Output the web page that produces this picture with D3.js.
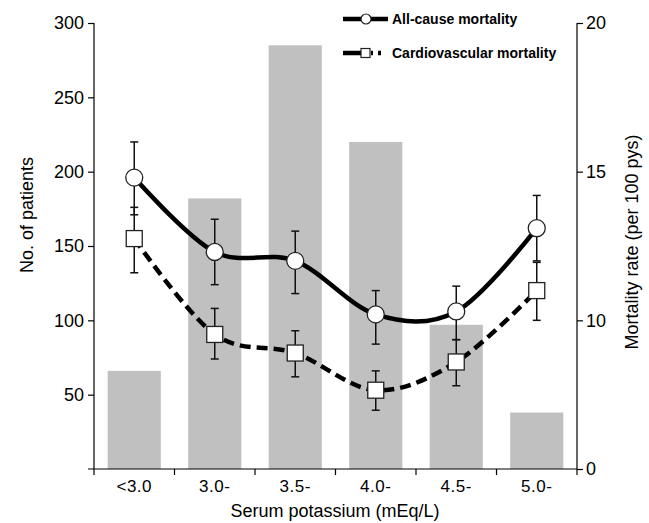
<!DOCTYPE html>
<html><head><meta charset="utf-8">
<script src="https://cdn.jsdelivr.net/npm/d3@7"></script>
<style>
html,body{margin:0;padding:0;background:#fff;}
svg{display:block;font-family:"Liberation Sans",Arial,sans-serif;}
</style></head>
<body><svg id="chart" width="649" height="523"></svg>
<script>
const categories = ["<3.0","3.0-","3.5-","4.0-","4.5-","5.0-"];
const patients = [66, 182, 285, 220, 97, 38];
const allCause = [14.8, 12.3, 12.0, 10.2, 10.3, 13.1];
const allCauseLo = [13.55, 11.2, 10.9, 8.4, 8.7, 12.0];
const allCauseHi = [16.0, 13.4, 13.0, 11.0, 11.15, 14.2];
const cvMort = [12.75, 9.05, 7.8, 5.3, 7.2, 11.0];
const cvMortLo = [11.6, 7.4, 6.2, 3.95, 5.6, 10.0];
const cvMortHi = [13.8, 10.4, 9.3, 6.6, 8.7, 11.95];
const leftTicks = [50, 100, 150, 200, 250, 300];
const rightTicks = [0, 10, 15, 20];
const legendLabels = ["All-cause mortality", "Cardiovascular mortality"];

const svg = d3.select("#chart");
const m = {left:94, right:577, top:23, bottom:469};

const x = d3.scaleBand().domain(categories).range([m.left, m.right]).padding(0);
const yL = d3.scaleLinear().domain([0,300]).range([m.bottom, m.top]);
// right axis is piecewise: 0-10 maps to 0-100 patients, 10-20 maps to 100-300
const yR = d3.scaleLinear().domain([0,10,20]).range([yL(0), yL(100), yL(300)]);

const barFrac = 0.66;
const cx = d => x(d) + x.bandwidth()/2;

// bars
svg.append("g").selectAll("rect").data(categories).join("rect")
  .attr("x", (d)=> cx(d) - x.bandwidth()*barFrac/2)
  .attr("width", x.bandwidth()*barFrac)
  .attr("y", (d,i)=> yL(patients[i]))
  .attr("height", (d,i)=> yL(0) - yL(patients[i]))
  .attr("fill", "#c0c0c0");

// axes
const fs = "18px";
const gl = svg.append("g").attr("transform", `translate(${m.left},0)`)
  .call(d3.axisLeft(yL).tickValues(leftTicks).tickSize(6).tickPadding(4));
gl.select(".domain").attr("d", `M0,${m.top}V${m.bottom}`);
gl.selectAll("text").style("font-size", fs).attr("fill","#000");

const gr = svg.append("g").attr("transform", `translate(${m.right},0)`)
  .call(d3.axisRight(yR).tickValues(rightTicks).tickSize(6).tickPadding(3));
gr.select(".domain").attr("d", `M0,${m.top}V${m.bottom}`);
gr.selectAll("text").style("font-size", fs).attr("fill","#000");

const gx = svg.append("g").attr("transform", `translate(0,${m.bottom})`);
gx.append("line").attr("x1", m.left-6).attr("x2", m.right).attr("stroke","#000").attr("stroke-width",1.2);
const edges = categories.map(d=>x(d)).concat([m.right]);
gx.selectAll("line.tk").data(edges).join("line").attr("class","tk")
  .attr("x1", d=>d).attr("x2", d=>d).attr("y1",0).attr("y2",6).attr("stroke","#000").attr("stroke-width",1.2);
gx.selectAll("text").data(categories).join("text")
  .attr("x", d=>cx(d)).attr("y", 23).attr("text-anchor","middle")
  .style("font-size","17px").style("letter-spacing","0.5px").text(d=>d);
svg.selectAll(".domain,.tick line").attr("stroke","#000").attr("stroke-width",1.2);

// axis titles
svg.append("text").attr("x", 335).attr("y", 517).attr("text-anchor","middle")
  .style("font-size","18px").text("Serum potassium (mEq/L)");
svg.append("text").attr("transform","translate(33,215) rotate(-90)").attr("text-anchor","middle")
  .style("font-size","18px").text("No. of patients");
svg.append("text").attr("transform","translate(638,242) rotate(-90)").attr("text-anchor","middle")
  .style("font-size","18px").text("Mortality rate (per 100 pys)");

// lines
const line = vals => d3.line().x((d,i)=>cx(categories[i])).y(d=>yR(d)).curve(d3.curveCardinal.tension(0))(vals);
svg.append("path").attr("d", line(cvMort)).attr("fill","none").attr("stroke","#000")
  .attr("stroke-width",4.5).attr("stroke-dasharray","11,6");
svg.append("path").attr("d", line(allCause)).attr("fill","none").attr("stroke","#000")
  .attr("stroke-width",4.5);

// error bars
function errBars(lo, hi){
  const g = svg.append("g").attr("stroke","#111").attr("stroke-width",1.5);
  categories.forEach((c,i)=>{
    const xc = cx(c);
    g.append("line").attr("x1",xc).attr("x2",xc).attr("y1",yR(lo[i])).attr("y2",yR(hi[i]));
    g.append("line").attr("x1",xc-4).attr("x2",xc+4).attr("y1",yR(lo[i])).attr("y2",yR(lo[i]));
    g.append("line").attr("x1",xc-4).attr("x2",xc+4).attr("y1",yR(hi[i])).attr("y2",yR(hi[i]));
  });
}
errBars(cvMortLo, cvMortHi);
errBars(allCauseLo, allCauseHi);

// markers
svg.append("g").selectAll("rect").data(cvMort).join("rect")
  .attr("x",(d,i)=>cx(categories[i])-8).attr("y",d=>yR(d)-8).attr("width",16).attr("height",16)
  .attr("fill","#fff").attr("stroke","#222").attr("stroke-width",1.3);
svg.append("g").selectAll("circle").data(allCause).join("circle")
  .attr("cx",(d,i)=>cx(categories[i])).attr("cy",d=>yR(d)).attr("r",8.5)
  .attr("fill","#fff").attr("stroke","#222").attr("stroke-width",1.3);

// legend
const lg = svg.append("g");
lg.append("line").attr("x1",343).attr("x2",388).attr("y1",19).attr("y2",19).attr("stroke","#000").attr("stroke-width",4.5);
lg.append("circle").attr("cx",366).attr("cy",19).attr("r",5).attr("fill","#fff").attr("stroke","#222").attr("stroke-width",1.2);
lg.append("text").attr("x",392).attr("y",24).style("font-size","14px").style("font-weight","bold").text(legendLabels[0]);
lg.append("line").attr("x1",343).attr("x2",384).attr("y1",53).attr("y2",53).attr("stroke","#000").attr("stroke-width",4.5)
  .attr("stroke-dasharray","26,2,2,5,3,30");
lg.append("rect").attr("x",361).attr("y",48.5).attr("width",9).attr("height",9).attr("fill","#fff").attr("stroke","#222").attr("stroke-width",1.2);
lg.append("text").attr("x",392).attr("y",58).style("font-size","14px").style("font-weight","bold").text(legendLabels[1]);
</script></body></html>
